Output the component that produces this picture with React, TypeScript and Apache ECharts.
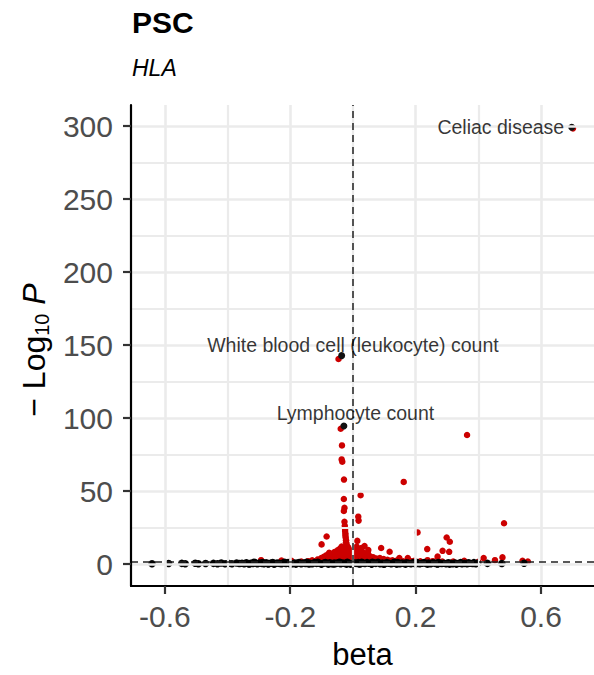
import React, { useEffect, useRef } from "react";
import * as echarts from "echarts";

const FONT = "Liberation Sans, Arial, Helvetica, sans-serif";

const xLabelTicks = [-0.6, -0.2, 0.2, 0.6];
const xMinorGrid = [-0.4, 0, 0.4];
const yLabelTicks = [0, 50, 100, 150, 200, 250, 300];
const yMinorGrid = [25, 75, 125, 175, 225, 275];

const xRange = [-0.708, 0.769];
const yRange = [-15, 314.5];

const betaZero = 0;
const pThreshold = 1.3;

// significant associations (red)
const redPoints: [number, number][] = [
  [0.702, 298.5], [-0.046, 140.5], [-0.039, 92.7],
  [-0.035, 81.3], [-0.036, 71.7], [-0.034, 70.2], [-0.0286, 57.9], [0.162, 56.3], [0.364, 88.4],
  [0.0245, 47.2], [-0.029, 44.6], [-0.027, 38.5], [-0.029, 36.4], [0.017, 32.5], [0.018, 29.8],
  [-0.027, 29.0], [-0.026, 26.2], [-0.025, 24.0], [-0.025, 22.6], [-0.024, 21.0], [-0.024, 19.5],
  [-0.023, 18.0], [-0.022, 16.3], [-0.022, 15.0], [-0.020, 13.5], [0.482, 28.0], [0.206, 21.7],
  [-0.084, 18.9], [-0.100, 13.5], [0.014, 15.9], [0.037, 12.4], [0.049, 9.6], [0.090, 11.0],
  [0.117, 8.5], [-0.076, 7.7], [0.237, 10.3], [0.299, 18.2], [0.309, 15.3], [0.286, 9.1],
  [0.307, 8.4], [0.270, 5.1], [0.417, 4.1], [0.477, 4.6], [0.453, 2.7], [0.400, 1.6],
  [0.541, 2.3], [0.558, 1.8], [0.175, 4.1], [0.148, 4.1], [0.196, 2.3], [0.238, 2.7],
  [0.355, 2.3], [-0.293, 2.7], [-0.228, 2.5], [-0.196, 2.2], [-0.143, 2.0],
  [-0.118, 2.0], [-0.112, 3.2], [-0.106, 2.4], [-0.101, 4.1], [-0.097, 2.8], [-0.093, 5.0],
  [-0.089, 3.5], [-0.085, 6.0], [-0.082, 2.2], [-0.079, 4.5], [-0.074, 5.5], [-0.071, 3.0],
  [-0.068, 7.0], [-0.065, 4.8], [-0.062, 6.4], [-0.059, 8.2], [-0.057, 2.6], [-0.054, 5.8],
  [-0.051, 7.5], [-0.049, 9.5], [-0.046, 4.0], [-0.044, 6.8], [-0.042, 10.5], [-0.040, 8.0],
  [-0.038, 3.4], [-0.036, 12.0], [-0.034, 6.0], [-0.032, 9.0], [-0.031, 11.2], [-0.029, 4.5],
  [-0.027, 7.6], [-0.025, 10.0], [-0.023, 3.0], [-0.021, 6.5], [-0.019, 8.8], [-0.017, 5.0],
  [-0.015, 11.5], [-0.013, 3.6], [-0.011, 7.0], [-0.009, 9.5], [-0.007, 2.4], [-0.005, 5.8],
  [-0.003, 4.2], [0.000, 8.0], [0.003, 6.2], [0.005, 10.2], [0.008, 3.0], [0.010, 7.5],
  [0.012, 12.0], [0.015, 5.0], [0.018, 9.0], [0.021, 3.8], [0.024, 6.8], [0.027, 11.0],
  [0.030, 4.5], [0.033, 8.0], [0.036, 2.8], [0.040, 6.0], [0.044, 4.0], [0.048, 7.2],
  [0.052, 2.6], [0.056, 5.2], [0.060, 3.4], [0.065, 4.6], [0.070, 2.2], [0.075, 3.8],
  [0.080, 2.8], [0.086, 4.2], [0.092, 2.2], [0.098, 3.4], [0.104, 2.0], [0.110, 3.0],
  [0.118, 2.2], [0.126, 2.6], [0.134, 1.8],
  [-0.165, 1.8], [-0.130, 2.6], [-0.125, 1.7], [0.140, 2.5], [0.160, 1.9], [0.185, 2.0],
  [0.215, 1.9], [0.255, 2.0], [0.285, 1.8], [0.320, 1.7],
];

// non-significant associations (black)
const blackPoints: [number, number][] = [
  [-0.641, 0.3], [-0.588, 0.4], [-0.546, 0.5], [-0.535, 0.2], [-0.503, 0.6], [-0.493, 0.3],
  [-0.470, 0.4], [-0.445, 0.5], [-0.432, 0.2], [-0.420, 0.7], [-0.408, 0.3], [-0.397, 0.5],
  [-0.386, 0.2], [-0.371, 0.8], [-0.362, 0.4], [-0.354, 0.6], [-0.347, 0.3], [-0.340, 0.9],
  [-0.333, 0.2], [-0.326, 0.6], [-0.319, 0.4], [-0.312, 1.0], [-0.305, 0.3], [-0.298, 0.7],
  [-0.291, 0.5], [-0.284, 0.2], [-0.277, 0.9], [-0.270, 0.4], [-0.263, 0.6], [-0.256, 1.1],
  [-0.249, 0.3], [-0.242, 0.7], [-0.235, 0.5], [-0.228, 0.2], [-0.221, 0.9], [-0.214, 0.4],
  [-0.207, 1.0], [-0.200, 0.6], [-0.193, 0.3], [-0.186, 0.8], [-0.179, 0.5], [-0.172, 1.1],
  [-0.165, 0.2], [-0.158, 0.7], [-0.151, 0.4], [-0.144, 0.9], [-0.137, 0.6], [-0.130, 0.3],
  [-0.123, 1.0], [-0.116, 0.5], [-0.109, 0.8], [-0.102, 0.2], [-0.095, 0.6], [-0.088, 1.1],
  [-0.081, 0.4], [-0.074, 0.9], [-0.067, 0.3], [-0.060, 0.7], [-0.053, 0.5], [-0.046, 1.0],
  [-0.039, 0.2], [-0.032, 0.8], [-0.025, 0.4], [-0.018, 1.2], [-0.011, 0.6], [-0.004, 0.3],
  [0.003, 0.9], [0.010, 0.5], [0.017, 1.1], [0.024, 0.2], [0.031, 0.7], [0.038, 0.4],
  [0.045, 1.0], [0.052, 0.6], [0.059, 0.3], [0.066, 0.9], [0.073, 0.5], [0.080, 1.2],
  [0.087, 0.2], [0.094, 0.7], [0.101, 0.4], [0.108, 1.0], [0.115, 0.6], [0.122, 0.3],
  [0.129, 0.8], [0.136, 0.5], [0.143, 1.1], [0.150, 0.2], [0.157, 0.7], [0.164, 0.4],
  [0.171, 0.9], [0.178, 0.6], [0.185, 0.3], [0.192, 1.0], [0.199, 0.5], [0.206, 0.8],
  [0.213, 0.2], [0.220, 0.6], [0.227, 1.0], [0.234, 0.4], [0.241, 0.7], [0.248, 0.3],
  [0.255, 0.9], [0.262, 0.5], [0.269, 0.2], [0.276, 0.8], [0.283, 0.4], [0.290, 0.6],
  [0.297, 0.3], [0.304, 0.9], [0.311, 0.5], [0.318, 0.2], [0.325, 0.7], [0.332, 0.4],
  [0.340, 0.6], [0.348, 0.3], [0.356, 0.5], [0.364, 0.2], [0.372, 0.6], [0.382, 0.4],
  [0.392, 0.3], [0.429, 0.5], [0.475, 0.4], [0.546, 0.6],
  [-0.060, 0.1], [-0.020, 0.0], [0.020, 0.1], [0.060, 0.0], [-0.100, 0.0], [0.100, 0.1],
  [-0.140, 0.1], [0.140, 0.0], [-0.200, 0.1], [0.200, 0.0], [-0.270, 0.1], [0.270, 0.1],
  [0.330, 0.0], [-0.330, 0.1],
  [-0.316, 1.2], [-0.288, 1.1], [-0.252, 0.0], [-0.218, 1.2], [-0.182, 0.0], [-0.148, 1.2],
  [-0.112, 1.2], [-0.078, 0.0], [-0.042, 1.2], [-0.008, 0.0], [0.028, 1.2], [0.062, 1.2],
  [0.098, 0.0], [0.132, 1.2], [0.168, 0.0], [0.202, 1.2], [0.238, 0.0], [0.272, 1.1],
  [0.308, 0.0], [0.344, 1.0], [0.368, 0.9], [0.386, 1.0], [0.398, 0.6],
];

// highlighted (labelled) associations
const labelledPoints: [number, number][] = [
  [0.698, 299.2], [-0.036, 142.8], [-0.029, 94.6],
];
const labelNames = ["Celiac disease", "White blood cell (leukocyte) count", "Lymphocyte count"];
const labelAnchors: [number, number][] = [[0.674, 299.5], [0.0, 150.3], [0.008, 103.2]];
const labelAligns = ["right", "center", "center"];

export default function App() {
  const ref = useRef<HTMLDivElement>(null);

  useEffect(() => {
    if (!ref.current) return;
    const chart = echarts.init(ref.current, null, { renderer: "svg" });

    const gridColor = "#ebebeb";
    const option: any = {
      animation: false,
      backgroundColor: "#ffffff",
      textStyle: { fontFamily: FONT },
      title: {
        text: "PSC",
        subtext: "HLA",
        left: 132,
        top: 7,
        itemGap: 19,
        padding: 0,
        textStyle: { fontSize: 30, fontWeight: "bold", color: "#000", fontFamily: FONT, lineHeight: 30 },
        subtextStyle: { fontSize: 23, fontStyle: "italic", color: "#000", fontFamily: FONT, lineHeight: 23 },
      },
      grid: { left: 131, right: -3, top: 105, bottom: 88, containLabel: false },
      xAxis: {
        type: "value",
        min: xRange[0],
        max: xRange[1],
        z: 5,
        name: "beta",
        nameLocation: "middle",
        nameGap: 53,
        nameTextStyle: { fontSize: 31, color: "#000", fontFamily: FONT },
        axisLine: { show: true, onZero: false, lineStyle: { color: "#000", width: 2.2 } },
        axisTick: { show: true, length: 8, customValues: xLabelTicks, lineStyle: { color: "#333", width: 2.2 } },
        axisLabel: {
          customValues: xLabelTicks,
          margin: 15,
          fontSize: 30,
          color: "#4d4d4d",
          fontFamily: FONT,
          formatter: (v: number) => String(v),
        },
        splitLine: { show: false },
      },
      yAxis: {
        type: "value",
        min: yRange[0],
        max: yRange[1],
        z: 5,
        axisLine: { show: true, onZero: false, lineStyle: { color: "#000", width: 2.2 } },
        axisTick: { show: true, length: 8, customValues: yLabelTicks, lineStyle: { color: "#333", width: 2.2 } },
        axisLabel: {
          customValues: yLabelTicks,
          margin: 18,
          fontSize: 30,
          color: "#4d4d4d",
          fontFamily: FONT,
          formatter: (v: number) => String(v),
        },
        splitLine: { show: false },
      },
      graphic: [
        {
          type: "text",
          x: 34,
          y: 350,
          rotation: Math.PI / 2,
          style: {
            text: "{m|\u2212 Log}{s|10}{p| P}",
            align: "center",
            verticalAlign: "middle",
            fill: "#000",
            rich: {
              m: { fontSize: 32, fontFamily: FONT, fill: "#000", lineHeight: 36, verticalAlign: "middle" },
              s: { fontSize: 20, fontFamily: FONT, fill: "#000", lineHeight: 18, verticalAlign: "bottom" },
              p: { fontSize: 32, fontFamily: FONT, fill: "#000", fontStyle: "italic", lineHeight: 36, verticalAlign: "middle" },
            },
          },
        },
      ],
      series: [
        {
          type: "scatter",
          data: [],
          z: 1,
          silent: true,
          markLine: {
            silent: true,
            symbol: "none",
            label: { show: false },
            lineStyle: { color: gridColor, type: "solid" },
            data: [
              ...xLabelTicks.map((v) => ({ xAxis: v, lineStyle: { width: 2.6, color: gridColor, type: "solid" } })),
              ...xMinorGrid.map((v) => ({ xAxis: v, lineStyle: { width: 2.2, color: gridColor, type: "solid" } })),
              ...yLabelTicks.map((v) => ({ yAxis: v, lineStyle: { width: 2.6, color: gridColor, type: "solid" } })),
              ...yMinorGrid.map((v) => ({ yAxis: v, lineStyle: { width: 2.2, color: gridColor, type: "solid" } })),
            ],
          },
        },
        {
          type: "scatter",
          data: redPoints,
          symbol: "circle",
          symbolSize: 6.5,
          z: 2,
          itemStyle: { color: "#cc0000", opacity: 1 },
        },
        {
          type: "scatter",
          data: blackPoints,
          symbol: "circle",
          symbolSize: 7.5,
          z: 3,
          itemStyle: { color: "#000000", opacity: 1, borderWidth: 0 },
        },
        {
          type: "scatter",
          data: labelledPoints,
          symbol: "circle",
          symbolSize: 7,
          z: 4,
          itemStyle: { color: "#111", opacity: 1 },
        },
        {
          type: "scatter",
          data: [],
          z: 6,
          silent: true,
          markLine: {
            silent: true,
            symbol: "none",
            label: { show: false },
            lineStyle: { color: "#222", width: 1.5, type: [7, 5] },
            data: [{ xAxis: betaZero }, { yAxis: pThreshold }],
          },
        },
        {
          type: "scatter",
          z: 7,
          silent: true,
          symbolSize: 0,
          data: labelNames.map((n, i) => ({
            name: n,
            value: labelAnchors[i],
            label: { align: labelAligns[i] },
          })),
          label: {
            show: true,
            position: "inside",
            formatter: (p: any) => p.name,
            fontSize: 19.5,
            color: "#000",
            fontFamily: FONT,
          },
        },
      ],
    };

    chart.setOption(option);
    return () => chart.dispose();
  }, []);

  return (
    <div
      ref={ref}
      style={{ position: "fixed", left: 0, top: 0, width: 594, height: 675, background: "#fff" }}
    />
  );
}
